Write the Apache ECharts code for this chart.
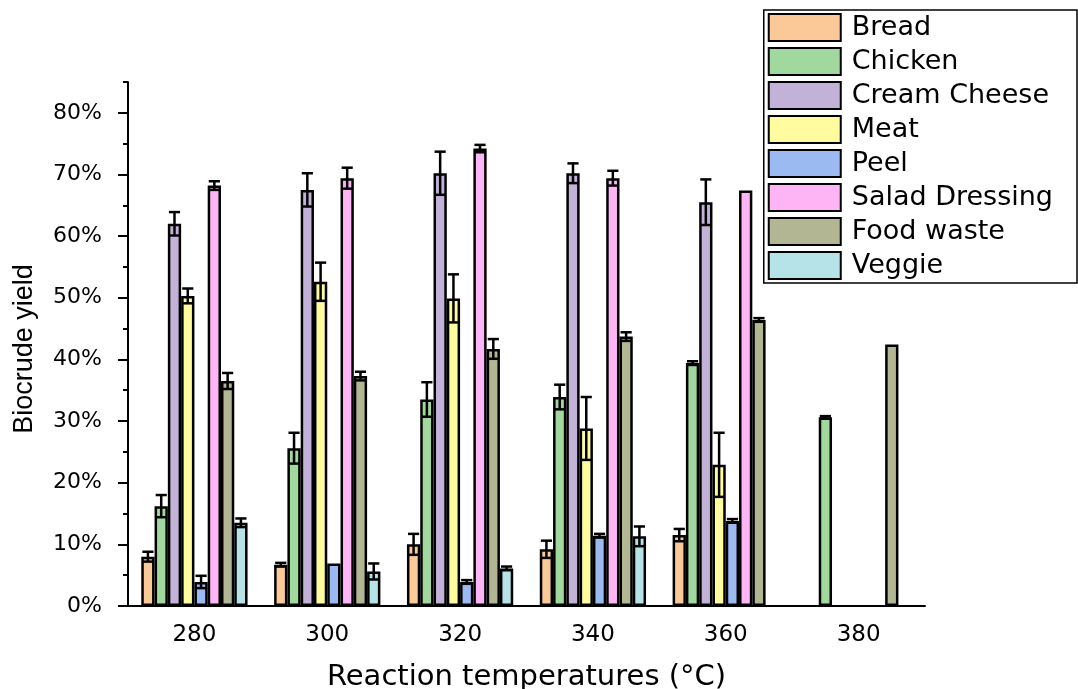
<!DOCTYPE html>
<html>
<head>
<meta charset="utf-8">
<script src="https://cdn.jsdelivr.net/npm/echarts@6/dist/echarts.min.js"></script>
<style>
  html, body { margin: 0; padding: 0; background: #fff; }
  #main { width: 1078px; height: 689px; }
</style>
</head>
<body>
<div id="main"></div>
<script>
var temps = ['280', '300', '320', '340', '360', '380']
var names = ['Bread', 'Chicken', 'Cream Cheese', 'Meat', 'Peel', 'Salad Dressing', 'Food waste', 'Veggie']
var colors = ['#FBC997', '#A0D89E', '#C3B2D7', '#FFFCA0', '#9BBAF2', '#FDB5F6', '#B3B692', '#B5E3E8']

// yields (%) and +/- error, one array per feedstock
var bread = [8.0, 6.7, 10.0, 9.2, 11.5, null]
var breadErr = [0.8, 0.3, 1.7, 1.4, 1.0, null]
var chicken = [16.2, 25.6, 33.5, 33.9, 39.4, 30.6]
var chickenErr = [1.8, 2.5, 2.8, 2.0, 0.3, 0.2]
var cream = [62.0, 67.5, 70.2, 70.2, 65.5, null]
var creamErr = [1.9, 2.7, 3.5, 1.6, 3.7, null]
var meat = [50.3, 52.6, 49.9, 28.8, 22.9, null]
var meatErr = [1.2, 3.1, 3.9, 5.1, 5.2, null]
var peel = [3.9, 6.9, 3.9, 11.4, 13.8, null]
var peelErr = [1.0, 0, 0.3, 0.3, 0.3, null]
var salad = [68.2, 69.4, 74.2, 69.4, 67.4, null]
var saladErr = [0.7, 1.7, 0.6, 1.2, 0, null]
var food = [36.5, 37.3, 41.7, 43.7, 46.4, 42.4]
var foodErr = [1.3, 0.7, 1.6, 0.7, 0.3, 0]
var veggie = [13.5, 5.6, 6.1, 11.3, null, null]
var veggieErr = [0.7, 1.3, 0.3, 1.6, null, null]

var yTicks = [0, 10, 20, 30, 40, 50, 60, 70, 80]

var values = [bread, chicken, cream, meat, peel, salad, food, veggie]
var errors = [breadErr, chickenErr, creamErr, meatErr, peelErr, saladErr, foodErr, veggieErr]

var chart = echarts.init(document.getElementById('main'))

var series = []
var errData = []
for (var s = 0; s < names.length; s++) {
  series.push({
    name: names[s],
    type: 'bar',
    data: values[s],
    barGap: '0%',
    barCategoryGap: '20%',
    itemStyle: { color: colors[s], borderColor: '#000', borderWidth: 2.5 }
  })
  for (var c = 0; c < temps.length; c++) {
    var v = values[s][c]
    var e = errors[s][c]
    if (v != null && e) {
      errData.push([c, s, v - e, v + e])
    }
  }
}

function renderErr (params, api) {
  var cat = api.value(0)
  var idx = api.value(1)
  var band = api.size([1, 0])[0]
  var group = band * 0.8
  var bw = group / names.length
  var x = api.coord([cat, 0])[0] - group / 2 + (idx + 0.5) * bw
  var lo = api.coord([cat, api.value(2)])[1]
  var hi = api.coord([cat, api.value(3)])[1]
  var half = bw * 0.42
  var st = { stroke: '#000', lineWidth: 2.5 }
  return {
    type: 'group',
    children: [
      { type: 'line', shape: { x1: x, y1: hi, x2: x, y2: lo }, style: st },
      { type: 'line', shape: { x1: x - half, y1: hi, x2: x + half, y2: hi }, style: st },
      { type: 'line', shape: { x1: x - half, y1: lo, x2: x + half, y2: lo }, style: st }
    ]
  }
}

series.push({
  type: 'custom',
  name: 'err',
  renderItem: renderErr,
  data: errData,
  encode: { x: 0, y: 3 },
  z: 5,
  silent: true
})

var axisFont = 'DejaVu Sans'
var option = {
  backgroundColor: '#fff',
  animation: false,
  legend: {
    data: names,
    orient: 'vertical',
    right: 1,
    top: 10,
    icon: 'rect',
    itemWidth: 72,
    itemHeight: 27,
    itemGap: 5,
    padding: [3, 24, 3, 4],
    borderColor: '#000',
    borderWidth: 1.5,
    backgroundColor: '#fff',
    itemStyle: { borderColor: '#000', borderWidth: 2 },
    textStyle: { fontFamily: axisFont, fontSize: 27, lineHeight: 25, color: '#000', padding: [4, 0, 0, 6] }
  },
  grid: [
    { left: 128, right: 153, top: 82, bottom: 83, outerBoundsMode: 'none' },
    { left: 128, right: 153, top: 82, bottom: 83, outerBoundsMode: 'none' }
  ],
  xAxis: [
    {
      type: 'category',
      data: temps,
      gridIndex: 0,
      name: 'Reaction temperatures (°C)',
      nameLocation: 'middle',
      nameGap: 57,
      nameTextStyle: { fontFamily: axisFont, fontSize: 29, color: '#000' },
      axisLine: { lineStyle: { color: '#000', width: 2 } },
      axisTick: { alignWithLabel: true, length: 10, lineStyle: { color: '#000', width: 2 } },
      axisLabel: { fontFamily: axisFont, fontSize: 23, color: '#000', margin: 18 }
    },
    {
      type: 'category',
      data: temps,
      gridIndex: 1,
      axisLine: { show: false },
      axisTick: { length: 5, lineStyle: { color: '#000', width: 2 } },
      axisLabel: { show: false }
    }
  ],
  yAxis: [
    {
      type: 'value',
      gridIndex: 0,
      min: 0,
      max: 85,
      interval: 10,
      name: 'Biocrude yield',
      nameLocation: 'middle',
      nameGap: 90,
      nameTextStyle: { fontFamily: 'Liberation Sans', fontSize: 27, color: '#000', padding: [0, 10, 0, 0] },
      splitLine: { show: false },
      axisLine: { show: true, lineStyle: { color: '#000', width: 2 } },
      axisTick: { show: true, length: 10, customValues: yTicks, lineStyle: { color: '#000', width: 2 } },
      axisLabel: {
        customValues: yTicks,
        fontFamily: axisFont,
        fontSize: 22,
        color: '#000',
        margin: 26,
        formatter: '{value}%'
      }
    },
    {
      type: 'value',
      gridIndex: 1,
      min: 0,
      max: 85,
      interval: 5,
      splitLine: { show: false },
      axisLine: { show: false },
      axisTick: { show: true, length: 5, lineStyle: { color: '#000', width: 2 } },
      axisLabel: { show: false }
    }
  ],
  series: series
}

chart.setOption(option)
</script>
</body>
</html>
